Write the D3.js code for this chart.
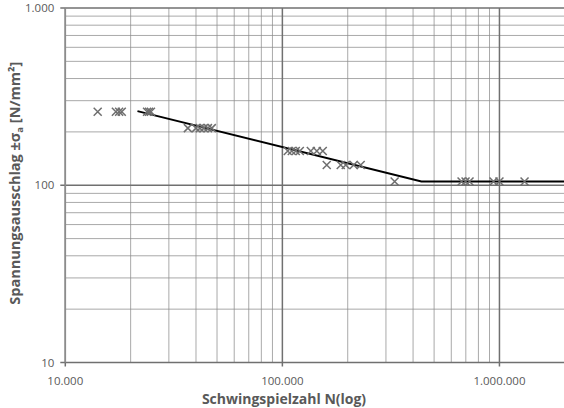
<!DOCTYPE html>
<html>
<head>
<meta charset="utf-8">
<script src="https://cdn.jsdelivr.net/npm/d3@7"></script>
<style>
  body { margin: 0; background: #fff; }
  svg text { font-family: "Open Sans", "Noto Sans", sans-serif; fill: #595959; }
</style>
</head>
<body>
<svg id="chart" width="564" height="408"></svg>
<script>
// test results: cycles N and stress amplitude
const cycles = [
    14100, 17100, 17700, 18200, 23800, 24300, 24800,
    36700, 40000, 41700, 43500, 45400, 47300,
    105900, 110500, 115300, 120300, 135200, 144100, 153500,
    160100, 185700, 195800, 213000, 229500,
    329000,
    669000, 698000, 728000, 939000, 1000000, 1305000
];
const stress = [
    260, 260, 260, 260, 260, 260, 260,
    210, 210, 210, 210, 210, 210,
    156, 156, 156, 156, 156, 156, 156,
    130, 130, 130, 130, 130,
    105,
    105, 105, 105, 105, 105, 105
];

// fitted Woehler line (start, knee, end)
const fitN = [21500, 437000, 2000000];
const fitS = [262, 105, 105];

const xTicks = [10000, 100000, 1000000];
const yTicks = [10, 100, 1000];
const fmt = v => d3.format(",")(v).replace(/,/g, ".");

const svg = d3.select("#chart");
const margin = { top: 8, right: 0, bottom: 45.5, left: 65.3 };
const width = +svg.attr("width") - margin.left - margin.right;
const height = +svg.attr("height") - margin.top - margin.bottom;

const x = d3.scaleLog().domain([10000, 2000000]).range([0, 499.5]);
const y = d3.scaleLog().domain([10, 1000]).range([height, 0]);

const g = svg.append("g").attr("transform", `translate(${margin.left},${margin.top})`);

// minor grid
const minorX = x.ticks().filter(t => !xTicks.includes(t));
const minorY = y.ticks().filter(t => !yTicks.includes(t));

g.append("g").selectAll("line")
    .data(minorX)
    .enter().append("line")
    .attr("x1", d => x(d)).attr("x2", d => x(d))
    .attr("y1", 0).attr("y2", height)
    .attr("stroke", "#8c8c8c").attr("stroke-width", 0.75);

g.append("g").selectAll("line")
    .data(minorY)
    .enter().append("line")
    .attr("x1", 0).attr("x2", width)
    .attr("y1", d => y(d)).attr("y2", d => y(d))
    .attr("stroke", "#8c8c8c").attr("stroke-width", 0.75);

// major grid
g.append("g").selectAll("line")
    .data(xTicks)
    .enter().append("line")
    .attr("x1", d => x(d)).attr("x2", d => x(d))
    .attr("y1", 0).attr("y2", height + 4)
    .attr("stroke", "#707070").attr("stroke-width", 1.5);

g.append("g").selectAll("line")
    .data(yTicks)
    .enter().append("line")
    .attr("x1", -5).attr("x2", width)
    .attr("y1", d => y(d)).attr("y2", d => y(d))
    .attr("stroke", "#707070").attr("stroke-width", 1.5);

// left axis line
g.append("line")
    .attr("x1", 0).attr("x2", 0)
    .attr("y1", 0).attr("y2", height)
    .attr("stroke", "#8c8c8c").attr("stroke-width", 1.5);

// tick labels
g.append("g").selectAll("text")
    .data(yTicks)
    .enter().append("text")
    .attr("x", -11)
    .attr("y", d => y(d))
    .attr("dy", "0.35em")
    .attr("text-anchor", "end")
    .attr("font-size", 11.5)
    .text(fmt);

g.append("g").selectAll("text")
    .data(xTicks)
    .enter().append("text")
    .attr("x", d => x(d))
    .attr("y", height + 22)
    .attr("text-anchor", "middle")
    .attr("font-size", 11.5)
    .text(fmt);

// axis titles
svg.append("text")
    .attr("x", 284)
    .attr("y", 404)
    .attr("text-anchor", "middle")
    .attr("font-size", 14)
    .attr("font-weight", "bold")
    .text("Schwingspielzahl N(log)");

const yTitle = svg.append("text")
    .attr("transform", `translate(20,${margin.top + y(100) - 2}) rotate(-90)`)
    .attr("text-anchor", "middle")
    .attr("font-size", 14.5)
    .attr("font-weight", "bold");
yTitle.append("tspan").text("Spannungsausschlag ±σ");
yTitle.append("tspan").attr("font-size", 9.5).attr("dy", 3).text("a");
yTitle.append("tspan").attr("dy", -3).text(" [N/mm²]");

// fit line
const line = d3.line()
    .x((d, i) => x(fitN[i]))
    .y(d => y(d));
g.append("path")
    .datum(fitS)
    .attr("d", line)
    .attr("fill", "none")
    .attr("stroke", "#000")
    .attr("stroke-width", 2);

// markers
const s = 4;
const pts = g.append("g").selectAll("path")
    .data(cycles)
    .enter().append("path")
    .attr("transform", (d, i) => `translate(${x(d)},${y(stress[i])})`)
    .attr("d", `M${-s},${-s}L${s},${s}M${-s},${s}L${s},${-s}`)
    .attr("stroke", "#6e6e6e")
    .attr("stroke-width", 1.5)
    .attr("fill", "none");
</script>
</body>
</html>
